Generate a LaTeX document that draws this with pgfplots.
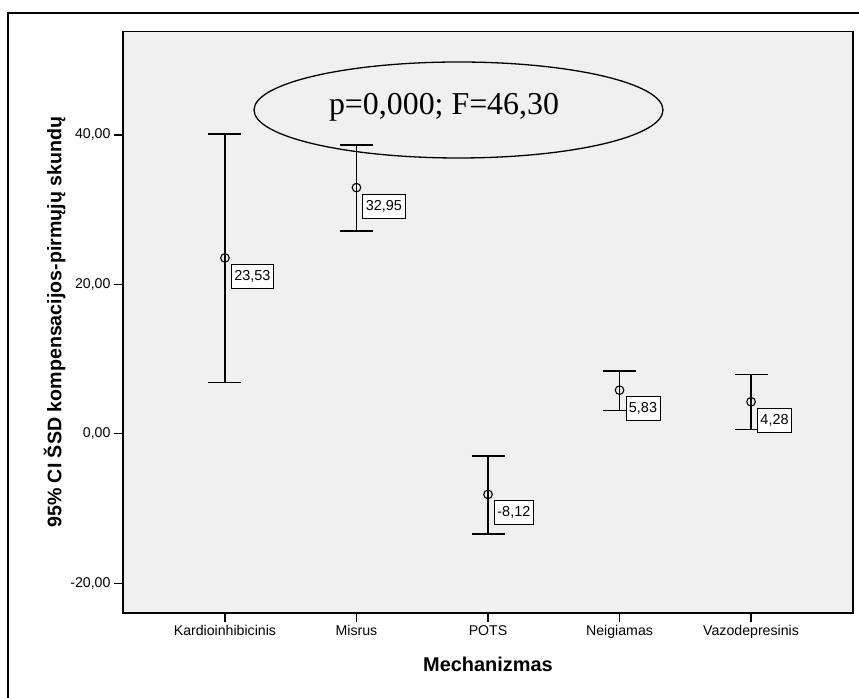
\documentclass[border=0pt]{standalone}
\usepackage{fontspec}
\setmainfont{Liberation Sans}
\newfontfamily\timesfont{Liberation Serif}
\usepackage{pgfplots}
\usepackage{pgfplotstable}
\pgfplotsset{compat=1.18}
\definecolor{plotbg}{HTML}{F0F0F0}
\pgfplotstableread{
x y ep em lab
0 23.53 16.6 16.65 23,53
1 32.95 5.7 5.8 32,95
2 -8.12 5.15 5.3 -8,12
3 5.83 2.6 2.7 5,83
4 4.28 3.65 3.7 4,28
}\cidata
\begin{document}
\begin{tikzpicture}[x=1bp,y=1bp]
\path[use as bounding box] (0,0) rectangle (859,698);
\draw[line width=2bp] (8,-5) -- (8,685) -- (864,685);
\begin{axis}[
  at={(123bp,85bp)}, anchor=south west,
  scale only axis, width=730bp, height=581.5bp,
  xmin=-0.775, xmax=4.775, ymin=-24, ymax=53.85,
  axis background/.style={fill=plotbg},
  axis line style={line width=1.2bp, black},
  tick align=outside, xtick pos=left, ytick pos=left,
  major tick length=9bp,
  tick style={line width=1.2bp, black},
  xtick={0,1,2,3,4},
  xticklabels={Kardioinhibicinis,Misrus,POTS,Neigiamas,Vazodepresinis},
  ytick={-20,0,20,40},
  yticklabels={{-20,00},{0,00},{20,00},{40,00}},
  tick label style={font=\fontsize{14.2}{17}\selectfont},
  xlabel={Mechanizmas},
  ylabel={95\% CI ŠSD kompensacijos-pirmųjų skundų},
  xlabel style={at={(axis description cs:0.5,-0.0876)}, anchor=center, font=\bfseries\fontsize{20}{23}\selectfont},
  ylabel style={at={(axis description cs:-0.0938,0.5)}, anchor=center, rotate=0, font=\bfseries\fontsize{19.7}{22}\selectfont},
]
\addplot[black, only marks, mark=o, mark size=4.3bp, mark options={line width=1.1bp, black},
  point meta=explicit symbolic, nodes near coords,
  nodes near coords style={anchor=north west, xshift=6bp, yshift=-6bp, draw=black, fill=white, line width=0.8bp, inner xsep=3bp, minimum height=24bp, font=\fontsize{14.5}{17}\selectfont},
  error bars/.cd, y dir=both, y explicit,
  error bar style={line width=1.5bp, black},
  error mark=|,
  error mark options={line width=1.5bp, mark size=16.5bp, black}]
  table[x=x, y=y, y error plus=ep, y error minus=em, meta=lab] {\cidata};
\end{axis}
\draw[line width=1.3bp] (458.5,588) ellipse [x radius=204.5, y radius=48];
\node[font=\timesfont\fontsize{32}{36}\selectfont, inner sep=0pt, anchor=base] at (444,583) {p=0,000; F=46,30};
\end{tikzpicture}
\end{document}
